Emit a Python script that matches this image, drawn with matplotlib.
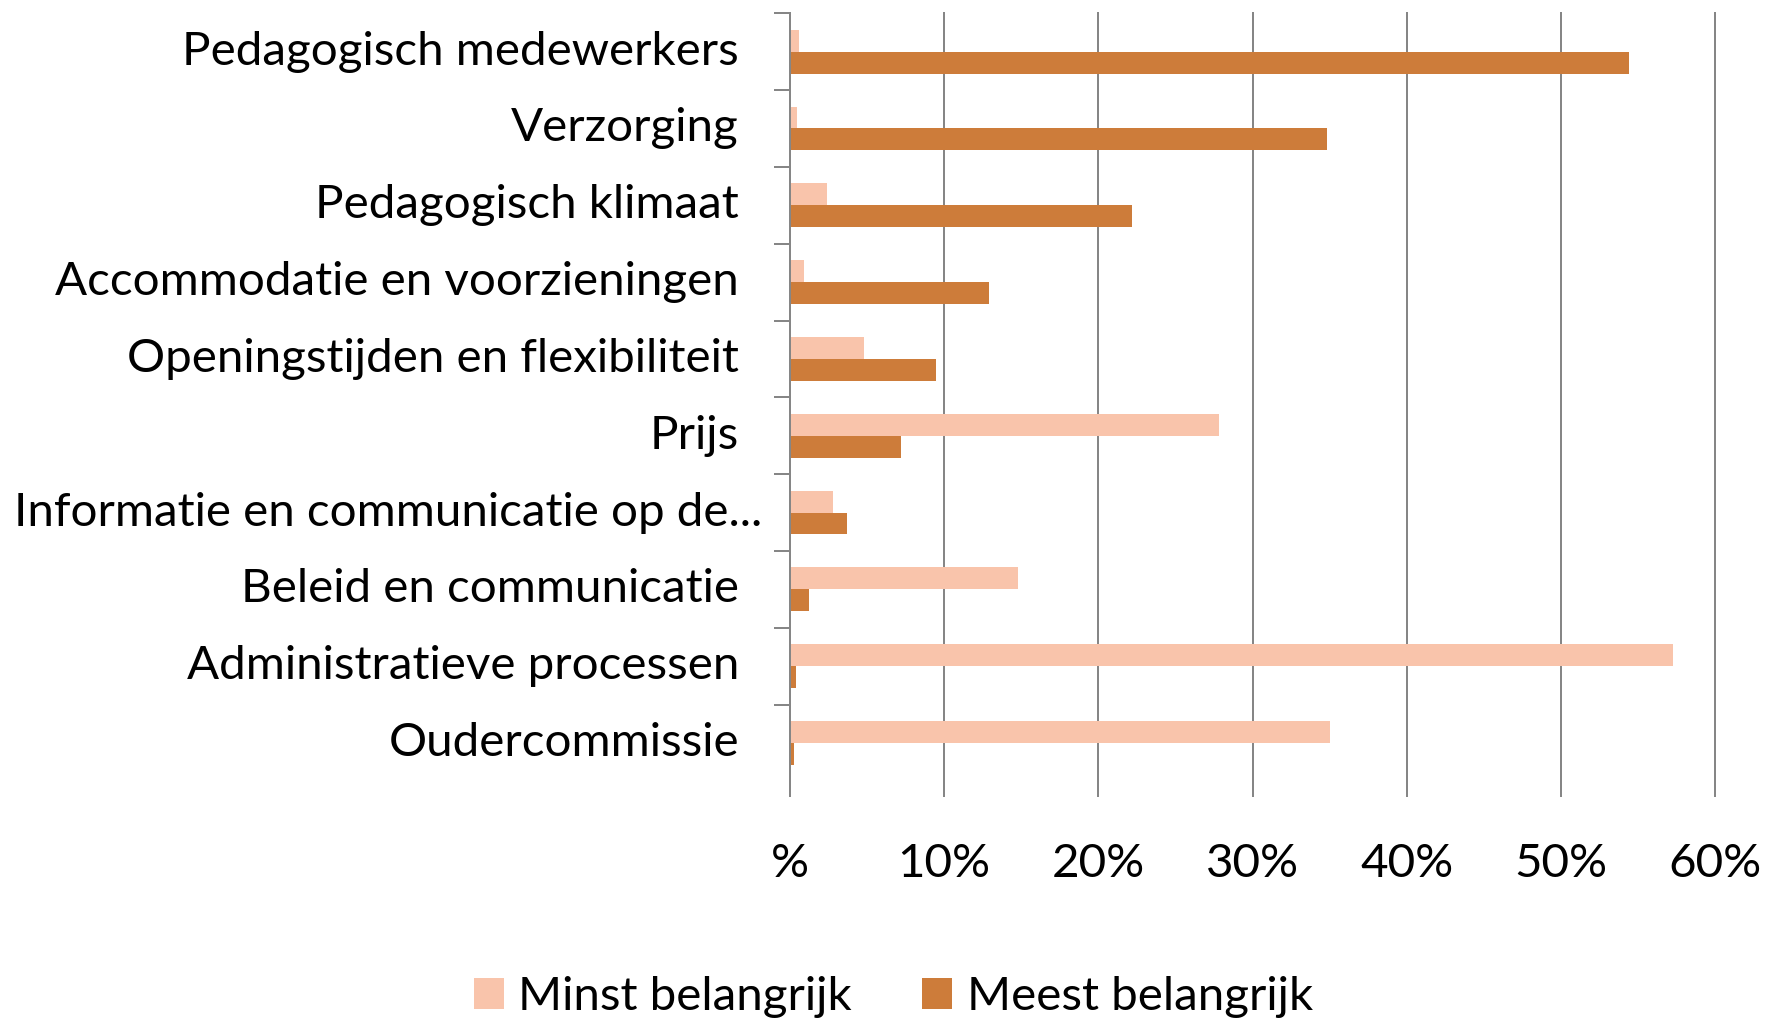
import matplotlib
matplotlib.use("Agg")
import matplotlib.pyplot as plt
from matplotlib.patches import Patch
from matplotlib.ticker import FixedLocator
import numpy as np

categories = ["Pedagogisch medewerkers", "Verzorging", "Pedagogisch klimaat",
              "Accommodatie en voorzieningen", "Openingstijden en flexibiliteit",
              "Prijs", "Informatie en communicatie op de...", "Beleid en communicatie",
              "Administratieve processen", "Oudercommissie"]
minst = [0.6, 0.45, 2.4, 0.9, 4.8, 27.8, 2.8, 14.8, 57.3, 35.0]
meest = [54.4, 34.8, 22.2, 12.9, 9.5, 7.2, 3.7, 1.2, 0.4, 0.25]
xticks = [0, 10, 20, 30, 40, 50, 60]
xticklabels = ["%", "10%", "20%", "30%", "40%", "50%", "60%"]
series_names = ["Minst belangrijk", "Meest belangrijk"]

c_minst = "#F9C4AB"
c_meest = "#CD7C3A"
gray = "#868686"
FONT = ["Lato", "DejaVu Sans"]
FS = 34.2

plt.rcParams["font.family"] = FONT

fig = plt.figure(figsize=(17.69, 10.21), dpi=100)
ax = fig.add_axes([0.4466, 0.2347, 0.5229, 0.7523])

y = np.arange(len(categories))
h = 1 / 3.5
ax.barh(y - h / 2, minst, height=h, color=c_minst, zorder=2)
ax.barh(y + h / 2, meest, height=h, color=c_meest, zorder=2)

ax.set_xlim(0, 60)
ax.set_ylim(len(categories) - 0.5, -0.5)

for s in ["top", "right", "bottom"]:
    ax.spines[s].set_visible(False)
ax.spines["left"].set_color(gray)
ax.spines["left"].set_linewidth(1.44)
ax.spines["left"].set_zorder(3)

ax.set_xticks(xticks)
ax.set_xticklabels(xticklabels, fontsize=FS)
ax.tick_params(axis="x", direction="out", length=11.5, width=1.44, color=gray, pad=33)
ax.xaxis.grid(True, color=gray, linewidth=1.44, zorder=0)
ax.set_axisbelow(True)
for gl in ax.get_xgridlines():
    gl.set_clip_on(False)

ax.set_yticks(y)
ax.set_yticklabels([])
ax.tick_params(axis="y", which="major", length=0)
ax.yaxis.set_minor_locator(FixedLocator(y - 0.5))
ax.tick_params(axis="y", which="minor", direction="out", length=11.5, width=1.44, color=gray)

trans = ax.get_yaxis_transform()
axw_px = 0.5229 * 1769
for i, lab in enumerate(categories):
    if lab.endswith("..."):
        ax.text((13.5 - 790) / axw_px, i, lab, transform=trans, ha="left", va="center",
                fontsize=FS, color="black")
    else:
        ax.text(-51 / axw_px, i, lab, transform=trans, ha="right", va="center",
                fontsize=FS, color="black")

handles = [Patch(facecolor=c_minst, edgecolor="none"), Patch(facecolor=c_meest, edgecolor="none")]
fig.legend(handles, series_names, loc="center", bbox_to_anchor=(0.505, 0.0235), ncol=2,
           frameon=False, fontsize=FS, handlelength=0.63, handleheight=0.63,
           handletextpad=0.31, columnspacing=1.48, borderaxespad=0, borderpad=0)

fig.savefig("out.png", dpi=100)
